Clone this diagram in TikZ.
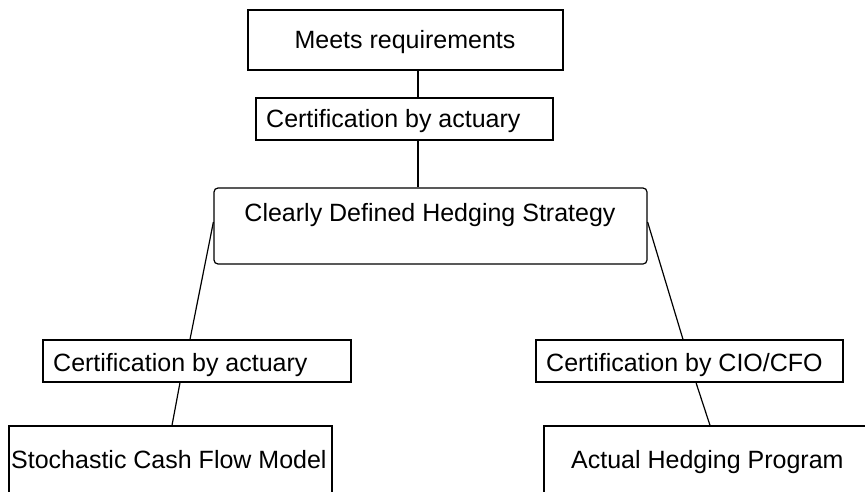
\documentclass[tikz,border=0pt]{standalone}
\usepackage{fontspec}
\setmainfont{Liberation Sans}
\begin{document}
\begin{tikzpicture}[x=1pt,y=-1pt,
  box/.style={draw=black,line width=1.2pt,inner sep=0pt},
  roundbox/.style={box,rounded corners=4pt},
  txt/.style={inner sep=0pt,font=\fontsize{25}{30}\selectfont},
  link/.style={draw=black,line width=1.2pt}]
\useasboundingbox (0,0) rectangle (865,492);
\clip (0,0) rectangle (865,492);
% boxes
\node[box,minimum width=315pt,minimum height=60pt] (meets) at (405.5,40) {};
\node[box,minimum width=297pt,minimum height=42pt] (cert) at (404.5,119) {};
\node[roundbox,minimum width=433pt,minimum height=76pt] (hedge) at (430.5,226) {};
\node[box,minimum width=308pt,minimum height=42pt] (certL) at (197,361) {};
\node[box,minimum width=323pt,minimum height=100pt] (model) at (170.5,476) {};
\node[box,minimum width=307pt,minimum height=42pt] (certR) at (689.5,361) {};
\node[box,minimum width=340pt,minimum height=100pt] (program) at (714,476) {};
% labels
\node[txt,anchor=base] (meets-t) at (405,49) {Meets requirements};
\node[txt,anchor=base west] (cert-t) at (266,128) {Certification by actuary};
\node[txt,anchor=base] (hedge-t) at (430,221) {Clearly Defined Hedging Strategy};
\node[txt,anchor=base west] (certL-t) at (53,371) {Certification by actuary};
\node[txt,anchor=base west] (model-t) at (11,468) {Stochastic Cash Flow Model};
\node[txt,anchor=base west] (certR-t) at (546,371) {Certification by CIO/CFO};
\node[txt,anchor=base west] (program-t) at (571,468) {Actual Hedging Program};
% connectors
\draw[link] ([xshift=12.5pt]meets.south) -- ([xshift=13.5pt]cert.north);
\draw[link] ([xshift=13.5pt]cert.south) -- ([xshift=-12.5pt]hedge.north);
\draw[link] ([yshift=4pt]hedge.west) -- ([xshift=-7pt]certL.north);
\draw[link] ([yshift=4pt]hedge.east) -- ([xshift=-6.5pt]certR.north);
\draw[link] ([xshift=-17pt]certL.south) -- ([xshift=1.5pt]model.north);
\draw[link] ([xshift=6.5pt]certR.south) -- ([xshift=-4pt]program.north);
\end{tikzpicture}
\end{document}
